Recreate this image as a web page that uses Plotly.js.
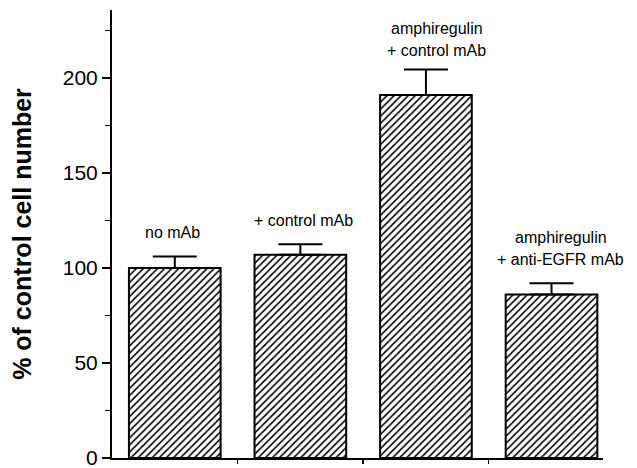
<!DOCTYPE html>
<html><head><meta charset="utf-8">
<script src="https://cdn.plot.ly/plotly-3.0.1.min.js"></script>
<style>body{margin:0;background:#fff}#c{width:637px;height:468px}</style>
</head><body><div id="c"></div>
<script>
const categories = ["no mAb", "+ control mAb", "amphiregulin\n+ control mAb", "amphiregulin\n+ anti-EGFR mAb"];
const values = [100, 107, 191, 86];
const errors = [6, 5.5, 13.5, 6];
const yTicks = [0, 50, 100, 150, 200];
const yMinorTicks = [25, 75, 125, 175, 225];

const xs = categories.map((c, i) => i);
// label placement (layout): y of the first line's centre, in axis units, and horizontal shift
const labelTop = [118.5, 125, 226, 115.8];
const labelShift = [-2, 3, 11, 9];
const lineGap = 11.3;
const font = {family: 'Liberation Sans, Arial, sans-serif', color: 'black'};

const trace = {
  type: 'bar', x: xs, y: values, width: 0.73,
  marker: {color: 'white', line: {color: 'black', width: 2},
    pattern: {shape: '/', fgcolor: 'black', bgcolor: 'white', size: 5, solidity: 0.32}},
  error_y: {type: 'data', symmetric: false, array: errors, arrayminus: errors.map(() => 0),
    color: 'black', thickness: 2, width: 22},
  hoverinfo: 'none'
};

const annotations = [];
categories.forEach((c, i) => {
  c.split('\n').forEach((line, k) => {
    annotations.push({x: i, y: labelTop[i] - k * lineGap, xref: 'x', yref: 'y', text: line,
      showarrow: false, yanchor: 'middle', xshift: labelShift[i],
      font: Object.assign({size: 16}, font)});
  });
});

const layout = {
  width: 637, height: 468,
  margin: {l: 112, r: 34, t: 10, b: 10},
  paper_bgcolor: 'white', plot_bgcolor: 'white',
  showlegend: false,
  xaxis: {range: [-0.5, 3.41], showgrid: false, zeroline: false, showline: true,
    linecolor: 'black', linewidth: 2, tickmode: 'array', tickvals: [0.5, 1.5, 2.5],
    ticktext: ['', '', ''], ticks: 'outside', ticklen: 4, tickwidth: 1.5, tickcolor: 'black'},
  yaxis: {range: [0, 235.8], showgrid: false, zeroline: false, showline: true,
    linecolor: 'black', linewidth: 2, tickmode: 'array', tickvals: yTicks,
    ticks: 'outside', ticklen: 8, tickwidth: 1.5, tickcolor: 'black',
    ticklabeloverflow: 'allow',
    minor: {tickmode: 'array', tickvals: yMinorTicks, ticks: 'outside', ticklen: 5, tickwidth: 1.5, tickcolor: 'black'},
    tickfont: Object.assign({size: 21}, font),
    title: {text: '% of control cell number', standoff: 24,
      font: Object.assign({size: 25, weight: 'bold'}, font)}},
  annotations: annotations
};

Plotly.newPlot('c', [trace], layout, {staticPlot: true});
</script></body></html>
